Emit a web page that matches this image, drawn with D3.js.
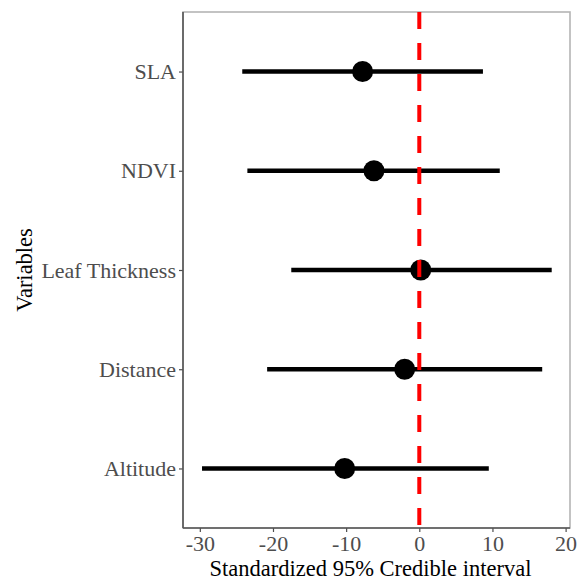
<!DOCTYPE html>
<html>
<head>
<meta charset="utf-8">
<script src="https://cdn.jsdelivr.net/npm/d3@7"></script>
<style>
  body { margin: 0; background: #fff; }
  text { font-family: "Liberation Serif", "Times New Roman", serif; }
</style>
</head>
<body>
<div id="chart"></div>
<script>
// values
var variables = ["Altitude", "Distance", "Leaf Thickness", "NDVI", "SLA"];
var estimate = [-10.2, -2.0, 0.2, -6.2, -7.75];
var lower = [-29.7, -20.8, -17.5, -23.5, -24.2];
var upper = [9.5, 16.8, 18.1, 11.0, 8.7];
var xTicks = [-30, -20, -10, 0, 10, 20];

var W = 585, H = 579;
var margin = {top: 12, right: 15, bottom: 51, left: 183};
var width = W - margin.left - margin.right,
    height = H - margin.top - margin.bottom;

var data = variables.map(function(v, i) {
  return {name: v, est: estimate[i], lo: lower[i], hi: upper[i]};
});

var x = d3.scaleLinear().domain([-32.3, 20.6]).range([0, width]);
// ggplot-style discrete expansion (0.6 on each side)
var yPos = d3.scaleLinear().domain([0.4, 5.6]).range([height, 0]);
var y = function(name) { return yPos(variables.indexOf(name) + 1); };

var svg = d3.select("#chart").append("svg")
  .attr("width", W).attr("height", H)
  .append("g")
  .attr("transform", "translate(" + margin.left + "," + margin.top + ")");

// panel border
svg.append("rect").attr("x", 0).attr("y", 0)
  .attr("width", width).attr("height", height)
  .attr("fill", "none").attr("stroke", "#b5b5b5").attr("stroke-width", 1.6);

// intervals
svg.selectAll(".ci").data(data).enter().append("line")
  .attr("class", "ci")
  .attr("x1", function(d) { return x(d.lo); })
  .attr("x2", function(d) { return x(d.hi); })
  .attr("y1", function(d) { return y(d.name); })
  .attr("y2", function(d) { return y(d.name); })
  .attr("stroke", "#000").attr("stroke-width", 4.5);

svg.selectAll(".pt").data(data).enter().append("circle")
  .attr("class", "pt")
  .attr("cx", function(d) { return x(d.est); })
  .attr("cy", function(d) { return y(d.name); })
  .attr("r", 10.5)
  .attr("fill", "#000");

// reference line at zero, drawn over the points
svg.append("line")
  .attr("x1", x(0)).attr("x2", x(0))
  .attr("y1", 0).attr("y2", height)
  .attr("stroke", "#ff0000").attr("stroke-width", 4)
  .attr("stroke-dasharray", "17,14");

// axes
var xAxis = svg.append("g").attr("transform", "translate(0," + height + ")")
  .call(d3.axisBottom(x).tickValues(xTicks).tickSize(4).tickPadding(5)
    .tickFormat(function(d) { return d; }));
var yAxis = svg.append("g")
  .call(d3.axisLeft(yPos).tickValues([1, 2, 3, 4, 5]).tickSize(4).tickPadding(3)
    .tickFormat(function(d) { return variables[d - 1]; }));

[xAxis, yAxis].forEach(function(a) {
  a.select(".domain").remove();
  a.selectAll("line").attr("stroke", "#4d4d4d").attr("stroke-width", 1.2);
  a.selectAll("text").attr("fill", "#4d4d4d").style("font-size", "22px")
    .style("font-family", "'Liberation Serif', serif");
});
xAxis.selectAll("text").attr("dy", "0.64em");

// axis lines (left and bottom darker)
svg.append("line").attr("x1", 0).attr("x2", 0).attr("y1", 0).attr("y2", height)
  .attr("stroke", "#555").attr("stroke-width", 1.6);
svg.append("line").attr("x1", 0).attr("x2", width).attr("y1", height).attr("y2", height)
  .attr("stroke", "#555").attr("stroke-width", 1.6);

// titles
svg.append("text")
  .attr("x", width / 2 - 6).attr("y", height + 47.5)
  .attr("text-anchor", "middle")
  .style("font-size", "22.5px").attr("fill", "#000")
  .text("Standardized 95% Credible interval");

svg.append("text")
  .attr("transform", "translate(" + (-margin.left + 32) + "," + (height / 2) + ") rotate(-90)")
  .attr("text-anchor", "middle")
  .style("font-size", "22.5px").attr("fill", "#000")
  .text("Variables");
</script>
</body>
</html>
